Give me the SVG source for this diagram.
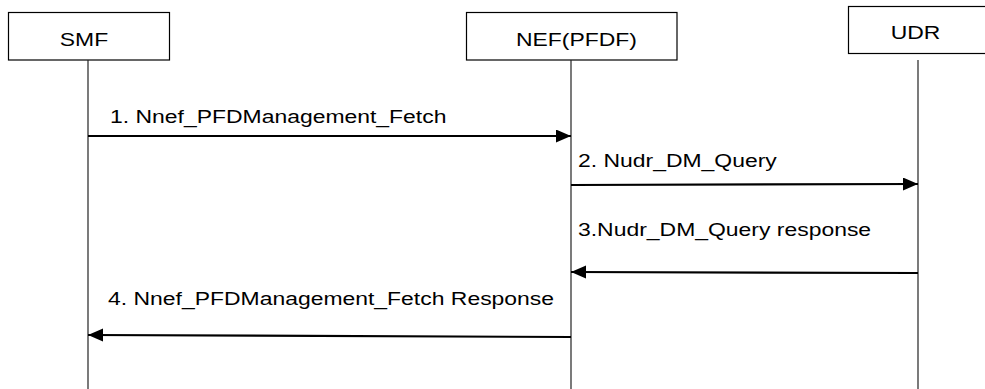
<svg xmlns="http://www.w3.org/2000/svg" width="985" height="389" viewBox="0 0 985 389">
<style>
.box{fill:#fff;stroke:#000;stroke-width:1.2}
.life{stroke:#222;stroke-width:1.2}
.msg{stroke:#000;stroke-width:2.2;fill:none}
.t{font-family:"Liberation Sans",Arial,sans-serif;font-size:18.5px;fill:#000}
</style>
<defs>
<marker id="ah" markerUnits="userSpaceOnUse" markerWidth="16" markerHeight="14" refX="15" refY="6.5" orient="auto">
<path d="M0,0 L15,6.5 L0,13 Z" fill="#000"/>
</marker>
</defs>
<g id="smf">
<rect class="box" x="8.5" y="12.5" width="161" height="47.5"/>
<text class="t" transform="matrix(1.24 0 0 1 84 46)" text-anchor="middle">SMF</text>
<line class="life" x1="88" y1="60" x2="88" y2="389"/>
</g>
<g id="nef">
<rect class="box" x="466.5" y="12.5" width="210.5" height="47.5"/>
<text class="t" transform="matrix(1.24 0 0 1 576.5 46)" text-anchor="middle">NEF(PFDF)</text>
<line class="life" x1="571" y1="60" x2="571" y2="389"/>
</g>
<g id="udr">
<rect class="box" x="848.5" y="6.5" width="145" height="47"/>
<text class="t" transform="matrix(1.24 0 0 1 915.5 39)" text-anchor="middle">UDR</text>
<line class="life" x1="918" y1="60" x2="918" y2="389"/>
</g>
<g id="connectors">
<line class="msg" x1="88" y1="136" x2="571" y2="136" marker-end="url(#ah)"/>
<line class="msg" x1="571" y1="185" x2="918" y2="184" marker-end="url(#ah)"/>
<line class="msg" x1="918" y1="273" x2="571" y2="272" marker-end="url(#ah)"/>
<line class="msg" x1="571" y1="337" x2="88" y2="335" marker-end="url(#ah)"/>
</g>
<g id="labels">
<text class="t" transform="matrix(1.24 0 0 1 110 123)">1. Nnef_PFDManagement_Fetch</text>
<text class="t" transform="matrix(1.24 0 0 1 578 167)">2. Nudr_DM_Query</text>
<text class="t" transform="matrix(1.24 0 0 1 578 236)">3.Nudr_DM_Query response</text>
<text class="t" transform="matrix(1.24 0 0 1 108 305)">4. Nnef_PFDManagement_Fetch Response</text>
</g>
</svg>
